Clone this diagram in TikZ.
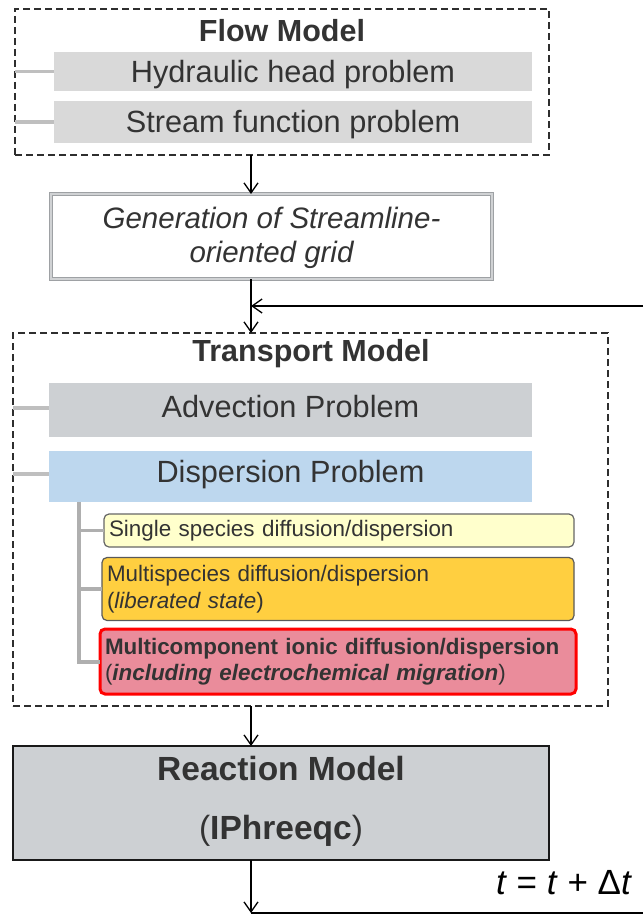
\documentclass[tikz,border=0pt]{standalone}
\usepackage{fontspec}
\setmainfont{Liberation Sans}
\usetikzlibrary{arrows.meta}
\definecolor{txt}{HTML}{333333}
\definecolor{dashc}{HTML}{2E2E2E}
\definecolor{flowfill}{HTML}{D9D9D9}
\definecolor{advfill}{HTML}{CDD0D3}
\definecolor{dispfill}{HTML}{BDD7EE}
\definecolor{singlefill}{HTML}{FFFFCC}
\definecolor{multifill}{HTML}{FFCF40}
\definecolor{mcfill}{HTML}{EA8C9B}
\definecolor{branchc}{HTML}{BFBFBF}
\definecolor{trunkc}{HTML}{AFAFAF}
\definecolor{genborder}{HTML}{9EA1A4}
\definecolor{geninner}{HTML}{D0D2D4}
\newcommand{\shiftit}[2]{\raisebox{#1}[\height][\depth]{#2}}
\begin{document}
\begin{tikzpicture}[x=1pt,y=-1pt,
  every node/.style={inner sep=0pt,outer sep=0pt,text=txt},
  groupbox/.style={draw=dashc,line width=2pt,dash pattern=on 7pt off 4pt,fill=none},
  titletext/.style={font=\fontsize{30.5}{34}\selectfont\bfseries},
  plainbox/.style={font=\fontsize{30.7}{35}\selectfont,align=center},
  subbox/.style={rounded corners=5pt,font=\fontsize{22.4}{26.5}\selectfont,align=left,inner xsep=5pt},
  branch/.style={draw=branchc,line width=3.5pt},
  trunkline/.style={draw=trunkc,line width=4pt},
  arr/.style={draw=black,line width=1.3pt,-{Straight Barb[length=10pt,width=14pt]}},
  loopline/.style={draw=black,line width=1.3pt}
]
\useasboundingbox (0,0) rectangle (643,915);

% ---------- Flow model ----------
\node[groupbox,minimum width=534pt,minimum height=146pt] (flow) at (282,82) {};
\node[titletext] (flowtitle) at (282,31) {Flow Model};
\node[plainbox,fill=flowfill,minimum width=478pt,minimum height=39pt] (hyd) at (293,71.5) {\shiftit{-3pt}{Hydraulic head problem}};
\node[plainbox,fill=flowfill,minimum width=478pt,minimum height=42pt] (stream) at (293,122) {\shiftit{-3pt}{Stream function problem}};
\draw[branch] (flow.west |- hyd.west) -- (hyd.west);
\draw[branch] (flow.west |- stream.west) -- (stream.west);

% ---------- Grid generation ----------
\node[draw=genborder,double=geninner,double distance=1.4pt,line width=1.4pt,fill=white,
      minimum width=441pt,minimum height=85pt] (gen) at (271.5,236.5) {};
\node[font=\fontsize{29.5}{34}\selectfont\itshape,align=center] (gentext) at (271.5,238) {Generation of Streamline-\\oriented grid};

\coordinate (ax) at (251,0);
\draw[arr] (flow.south -| ax) -- (gen.north -| ax);

% ---------- Transport model ----------
\node[groupbox,minimum width=595pt,minimum height=373pt] (trans) at (310.5,519.5) {};
\node[titletext] (transtitle) at (311,354) {Transport Model};
\node[plainbox,fill=advfill,minimum width=483pt,minimum height=54pt] (adv) at (290.5,410) {\shiftit{3pt}{Advection Problem}};
\node[plainbox,fill=dispfill,minimum width=483pt,minimum height=51pt] (disp) at (290.5,476.5) {\shiftit{2pt}{Dispersion Problem}};
\draw[branch] (trans.west |- 0,408) coordinate (advl) -- (adv.west |- advl);
\draw[branch] (trans.west |- 0,474) coordinate (displ) -- (disp.west |- displ);

\node[subbox,draw=black!60,line width=1.2pt,fill=singlefill,text width=460pt,minimum height=33pt] (single) at (339,530.5) {Single species diffusion/dispersion};
\node[subbox,draw=black!65,line width=1.2pt,fill=multifill,text width=462pt,minimum height=63pt] (multi) at (338,589) {Multispecies diffusion/dispersion\\(\textit{liberated state})};
\node[subbox,draw=red,line width=3pt,fill=mcfill,text width=466pt,minimum height=65pt] (mc) at (338,661.5) {\textbf{Multicomponent ionic diffusion/dispersion}\\(\textbf{\textit{including electrochemical migration}})};

\coordinate (trunk) at (79,0);
\draw[trunkline] (disp.south -| trunk) -- (trunk |- mc.west) -- (mc.west);
\draw[branch,draw=trunkc] (trunk |- single.west) -- (single.west);
\draw[branch,draw=trunkc] (trunk |- multi.west) -- (multi.west);

\draw[arr] (gen.south -| ax) -- (trans.north -| ax);

% ---------- Reaction model ----------
\node[draw=black!90,line width=1.5pt,fill=advfill,minimum width=536pt,minimum height=114pt] (react) at (281,803) {};
\node[font=\fontsize{33.5}{39}\selectfont,align=center] (reacttext) at (281,801) {\textbf{Reaction Model}\\[20pt](\textbf{IPhreeqc})};
\draw[arr] (trans.south -| ax) -- (react.north -| ax);

% ---------- time loop ----------
\coordinate (loopB) at (251,913);
\coordinate (loopBR) at (643,913);
\coordinate (loopTR) at (643,306);
\coordinate (loopT) at (251,306);
\draw[arr] (react.south -| ax) -- (loopB);
\draw[loopline] (loopB) -- (loopBR);
\draw[arr] (loopTR) -- (loopT);
\node[font=\fontsize{35}{40}\selectfont,anchor=base] (tlabel) at (564,894) {\textcolor{black}{\textit{t} = \textit{t} + Δ\textit{t}}};
\end{tikzpicture}
\end{document}
